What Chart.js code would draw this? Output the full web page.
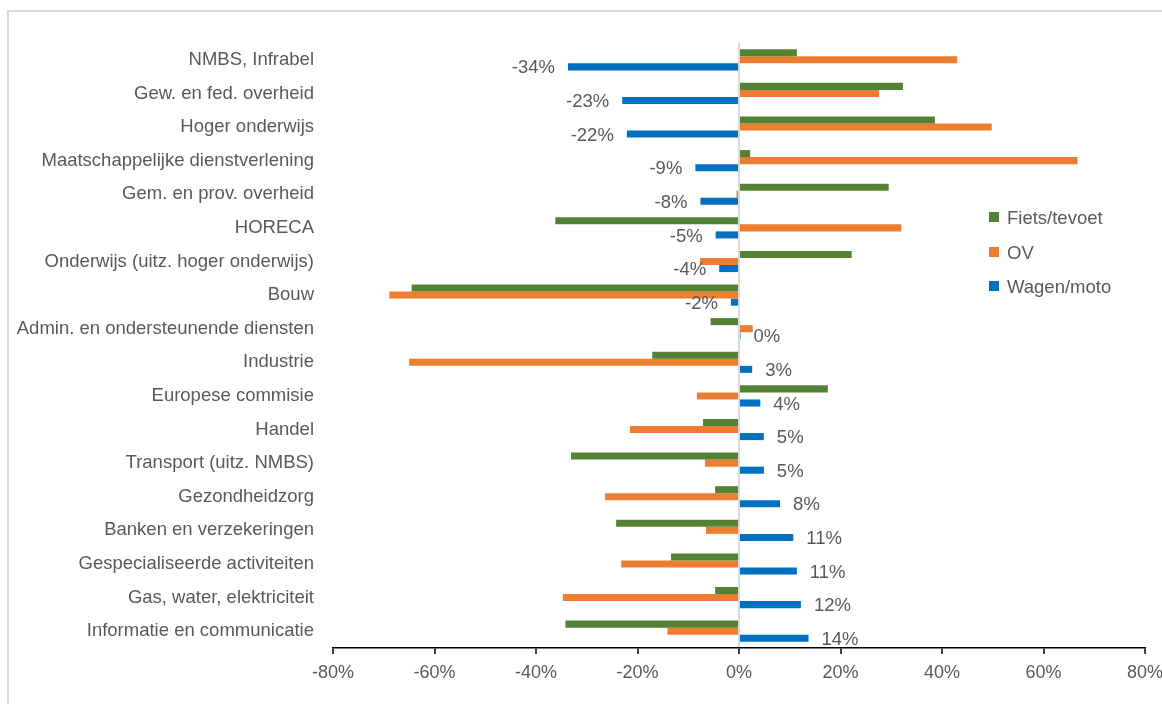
<!DOCTYPE html>
<html>
<head>
<meta charset="utf-8">
<script src="https://cdn.jsdelivr.net/npm/chart.js@4"></script>
<style>
  html, body { margin: 0; padding: 0; background: #fff; }
  #wrap { position: relative; width: 1162px; height: 704px; overflow: hidden; }
  #frame { position: absolute; left: 7px; top: 10px; width: 1200px; height: 760px;
           border-left: 2px solid #d9d9d9; border-top: 2px solid #d9d9d9; }
  #chart { position: absolute; left: 0; top: 0; }
  #legend { position: absolute; left: 989px; top: 207px; font-family: "Liberation Sans", Arial, sans-serif;
            font-size: 18.5px; color: #595959; }
  .item { height: 34.5px; display: flex; align-items: flex-start; }
  .box { width: 10px; height: 10px; margin-top: 5px; margin-right: 8px; }
</style>
</head>
<body>
<div id="wrap">
  <div id="frame"></div>
  <canvas id="chart" width="1162" height="704"></canvas>
  <div id="legend"></div>
</div>
<script>
const categories = [
  'NMBS, Infrabel',
  'Gew. en fed. overheid',
  'Hoger onderwijs',
  'Maatschappelijke dienstverlening',
  'Gem. en prov. overheid',
  'HORECA',
  'Onderwijs (uitz. hoger onderwijs)',
  'Bouw',
  'Admin. en ondersteunende diensten',
  'Industrie',
  'Europese commisie',
  'Handel',
  'Transport (uitz. NMBS)',
  'Gezondheidzorg',
  'Banken en verzekeringen',
  'Gespecialiseerde activiteiten',
  'Gas, water, elektriciteit',
  'Informatie en communicatie'
];

const fietsValues = [11.4, 32.3, 38.6, 2.2, 29.5, -36.2, 22.2, -64.5, -5.6, -17.1, 17.5, -7.1, -33.1, -4.7, -24.2, -13.4, -4.7, -34.2];
const ovValues = [43.0, 27.6, 49.8, 66.7, -0.5, 32.0, -7.7, -68.9, 2.7, -65.0, -8.3, -21.5, -6.7, -26.4, -6.5, -23.2, -34.7, -14.1];
const wagenValues = [-33.7, -23.0, -22.1, -8.6, -7.6, -4.6, -3.9, -1.6, 0.3, 2.6, 4.2, 4.9, 4.9, 8.1, 10.7, 11.4, 12.2, 13.7];

const seriesNames = ['Fiets/tevoet', 'OV', 'Wagen/moto'];
const seriesColors = ['#548235', '#ED7D31', '#0070C0'];
const xTicks = [-80, -60, -40, -20, 0, 20, 40, 60, 80];

const fontFamily = '"Liberation Sans", Arial, sans-serif';
const textColor = '#595959';

// labels only for the Wagen/moto series
const barLabels = {
  id: 'barLabels',
  afterDatasetsDraw(chart) {
    const ctx = chart.ctx;
    const meta = chart.getDatasetMeta(2);
    ctx.save();
    ctx.font = '18.5px ' + fontFamily;
    ctx.fillStyle = textColor;
    ctx.textBaseline = 'middle';
    meta.data.forEach((bar, i) => {
      const v = wagenValues[i];
      const txt = Math.round(v) + '%';
      if (v >= 0) {
        ctx.textAlign = 'left';
        ctx.fillText(txt, bar.x + 13, bar.y + 1.5);
      } else {
        ctx.textAlign = 'right';
        ctx.fillText(txt, bar.x - 13, bar.y + 1.5);
      }
    });
    ctx.restore();
  }
};

const datasets = [fietsValues, ovValues, wagenValues].map((vals, i) => ({
  label: seriesNames[i],
  data: vals,
  backgroundColor: seriesColors[i],
  categoryPercentage: 0.63,
  barPercentage: 1.0
}));

new Chart(document.getElementById('chart'), {
  type: 'bar',
  data: { labels: categories, datasets: datasets },
  options: {
    indexAxis: 'y',
    responsive: false,
    animation: false,
    layout: { padding: { top: 43, right: 17, left: 0, bottom: 0 } },
    plugins: {
      legend: { display: false },
      tooltip: { enabled: false }
    },
    scales: {
      x: {
        min: -80,
        max: 80,
        afterBuildTicks(scale) {
          scale.ticks = xTicks.map(v => ({ value: v }));
        },
        afterFit(scale) {
          scale.height = 56;
          scale.paddingLeft = 0;
          scale.paddingRight = 0;
        },
        grid: {
          color: c => (c.tick && c.tick.value === 0 ? '#d9d9d9' : 'rgba(0,0,0,0)'),
          lineWidth: 2,
          tickColor: '#000',
          tickLength: 6,
          tickWidth: 1.5
        },
        border: { display: true, color: '#000', width: 1.5 },
        ticks: {
          color: textColor,
          font: { family: fontFamily, size: 18 },
          padding: 8,
          callback: v => v + '%'
        }
      },
      y: {
        afterFit(scale) { scale.width = 333; },
        grid: { display: false, drawTicks: false },
        border: { display: false },
        ticks: {
          color: textColor,
          font: { family: fontFamily, size: 18.5 },
          padding: 19,
          autoSkip: false
        }
      }
    }
  },
  plugins: [barLabels]
});

const legend = document.getElementById('legend');
seriesNames.forEach((name, i) => {
  const item = document.createElement('div');
  item.className = 'item';
  const box = document.createElement('span');
  box.className = 'box';
  box.style.background = seriesColors[i];
  const label = document.createElement('span');
  label.textContent = name;
  item.appendChild(box);
  item.appendChild(label);
  legend.appendChild(item);
});
</script>
</body>
</html>
